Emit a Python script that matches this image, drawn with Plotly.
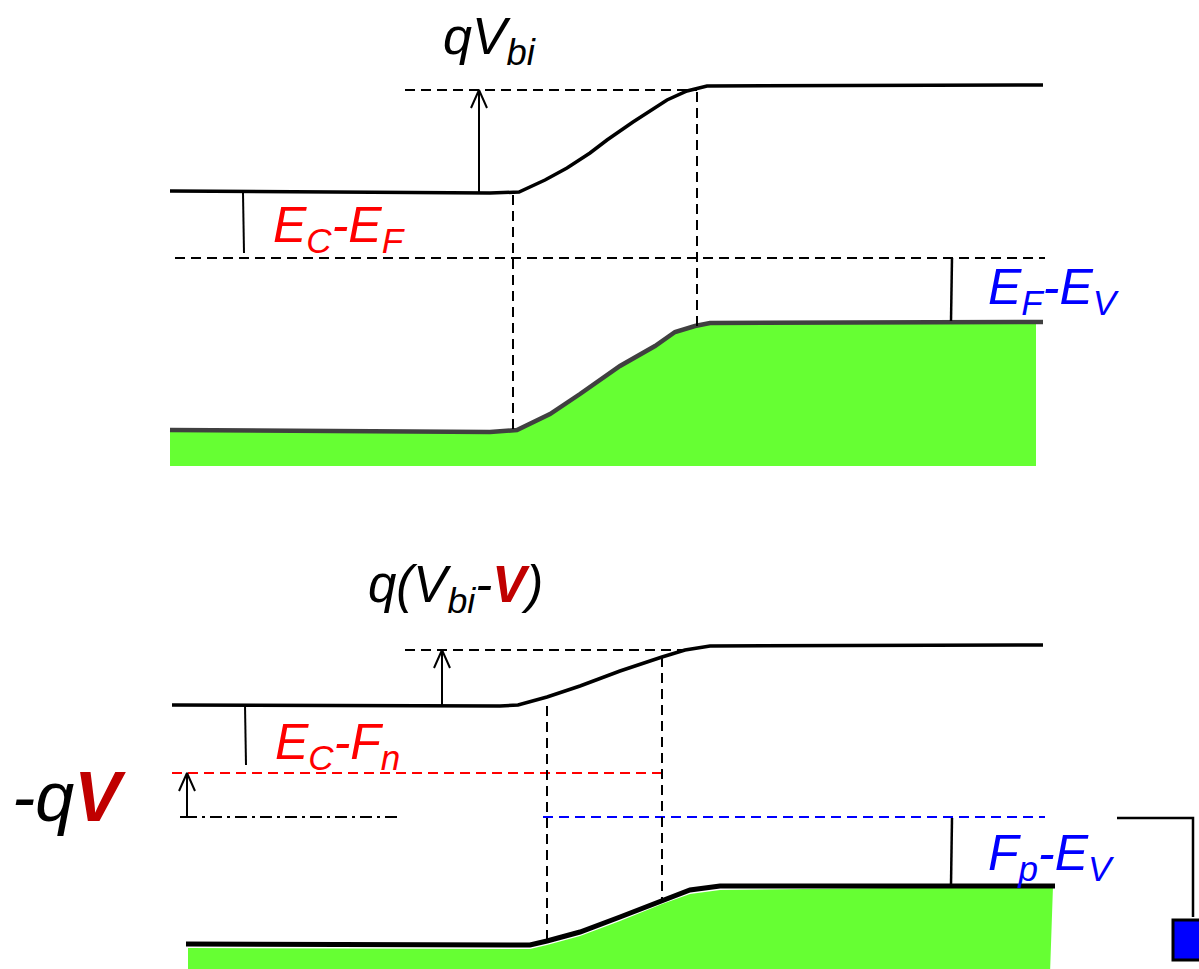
import plotly.graph_objects as go

# ---- band profiles (pixel-like diagram units) ----
top_ec_x = [170, 490, 519, 545, 567, 590, 607, 633, 667, 687, 707, 1043]
top_ec_y = [191, 193, 192, 180, 168, 153, 140, 122, 100, 91, 86, 85]
top_ev_x = [170, 490, 517, 550, 580, 620, 655, 675, 695, 710, 1043]
top_ev_y = [430, 432, 430, 414, 394, 366, 346, 332, 326, 323, 322]
top_ef_y = 258
top_vbi_ref_y = 90
top_fill_bottom = 466
top_fill_right = 1036

bot_ec_x = [172, 500, 518, 547, 580, 620, 662, 685, 710, 1043]
bot_ec_y = [705, 706, 705, 697, 686, 671, 657, 650, 646, 645]
bot_ev_x = [186, 530, 547, 580, 620, 662, 690, 720, 1055]
bot_ev_y = [944, 945, 941, 932, 917, 900, 890, 886, 886]
bot_fn_y = 773
bot_fp_y = 817
bot_ref_y = 650
bot_fill_bottom = 969
bot_fill_right = 1053

GREEN = "#66ff33"
RED = "#ff0000"
DRED = "#c00000"
BLUE = "#0000ff"

W, H = 1199, 969

fig = go.Figure()

def line(xs, ys, color="black", width=2, dash=None):
    fig.add_trace(go.Scatter(x=xs, y=ys, mode="lines",
                             line=dict(color=color, width=width, dash=dash),
                             hoverinfo="skip", showlegend=False))

def fill(xs, ys, color):
    fig.add_trace(go.Scatter(x=xs, y=ys, mode="lines", fill="toself",
                             fillcolor=color, line=dict(width=0),
                             hoverinfo="skip", showlegend=False))

def arrow_up(x0, y0, y1, width=2):
    line([x0, x0], [y0, y1], width=width)
    line([x0 - 8, x0, x0 + 8], [y1 + 18, y1, y1 + 18], width=width)

DASH = "10px,6px"

# ---- top diagram ----
fill([top_ev_x[0]] + top_ev_x[1:-1] + [top_fill_right, top_fill_right, top_ev_x[0]],
     [top_ev_y[0]] + top_ev_y[1:-1] + [top_ev_y[-1], top_fill_bottom, top_fill_bottom],
     GREEN)
line(top_ev_x, top_ev_y, color="#404040", width=4.5)
line(top_ec_x, top_ec_y, width=3.5)
line([405, 697], [top_vbi_ref_y, top_vbi_ref_y], dash=DASH)
line([175, 1045], [top_ef_y, top_ef_y], dash=DASH)
line([513, 513], [195, 430], dash=DASH)
line([697, 697], [92, 326], dash=DASH)
arrow_up(479, 192, top_vbi_ref_y)
line([243, 244], [193, 253], width=2)
line([952, 951], [top_ef_y, 321], width=2.5)

# ---- bottom diagram ----
fill([188] + [x for x in bot_ev_x[1:-1]] + [bot_fill_right, 1050, 188],
     [948] + [y + 4 for y in bot_ev_y[1:-1]] + [bot_ev_y[-1], bot_fill_bottom + 5, bot_fill_bottom + 5],
     GREEN)
line(bot_ev_x, bot_ev_y, width=5)
line(bot_ec_x, bot_ec_y, width=3.5)
line([405, 690], [bot_ref_y, bot_ref_y], dash=DASH)
line([172, 665], [bot_fn_y, bot_fn_y], color=RED, dash=DASH)
line([185, 400], [bot_fp_y, bot_fp_y], dash="12px,5px,3px,5px")
line([543, 1045], [bot_fp_y, bot_fp_y], color=BLUE, dash=DASH)
line([547, 547], [706, 942], dash=DASH)
line([662, 662], [657, 899], dash=DASH)
arrow_up(442, 705, bot_ref_y)
arrow_up(187, bot_fp_y, bot_fn_y)
line([180, 194], [bot_fp_y, bot_fp_y], width=2)
line([245, 246], [705, 765], width=2)
line([952, 951], [bot_fp_y + 1, 885], width=2.5)
line([1117, 1193, 1193], [818, 818, 917], width=2.5)
fig.add_shape(type="rect", x0=1173, x1=1205, y0=920, y1=960,
              fillcolor=BLUE, line=dict(color="black", width=3))

# ---- labels ----
FONT = "Liberation Sans, Arial, sans-serif"
def label(x, y, text, color="black", size=50):
    fig.add_annotation(x=x, y=y, text=text, showarrow=False, xanchor="left",
                       yanchor="middle", font=dict(family=FONT, size=size, color=color))

label(441, 40, "<i>qV<sub>bi</sub></i>", size=52)
label(271, 228, "<i>E<sub>C</sub>-E<sub>F</sub></i>", RED)
label(986, 290, "<i>E<sub>F</sub>-E<sub>V</sub></i>", BLUE)
label(366, 588, "<i>q(V<sub>bi</sub>-<b><span style='color:%s'>V</span></b>)</i>" % DRED, size=51)
label(273, 745, "<i>E<sub>C</sub>-F<sub>n</sub></i>", RED)
label(10, 797, "<i>-q<b><span style='color:%s'>V</span></b></i>" % DRED, size=70)
label(986, 856, "<i>F<sub>p</sub>-E<sub>V</sub></i>", BLUE)

fig.update_layout(width=W, height=H, margin=dict(l=0, r=0, t=0, b=0),
                  paper_bgcolor="white", plot_bgcolor="white",
                  xaxis=dict(range=[0, W], visible=False, fixedrange=True),
                  yaxis=dict(range=[H, 0], visible=False, fixedrange=True),
                  showlegend=False)
fig.write_html("out.html", config={"displayModeBar": False, "staticPlot": True},
               post_script="document.body.style.margin='0px';"
                           "document.body.style.overflow='hidden';"
                           "document.documentElement.style.overflow='hidden';")
